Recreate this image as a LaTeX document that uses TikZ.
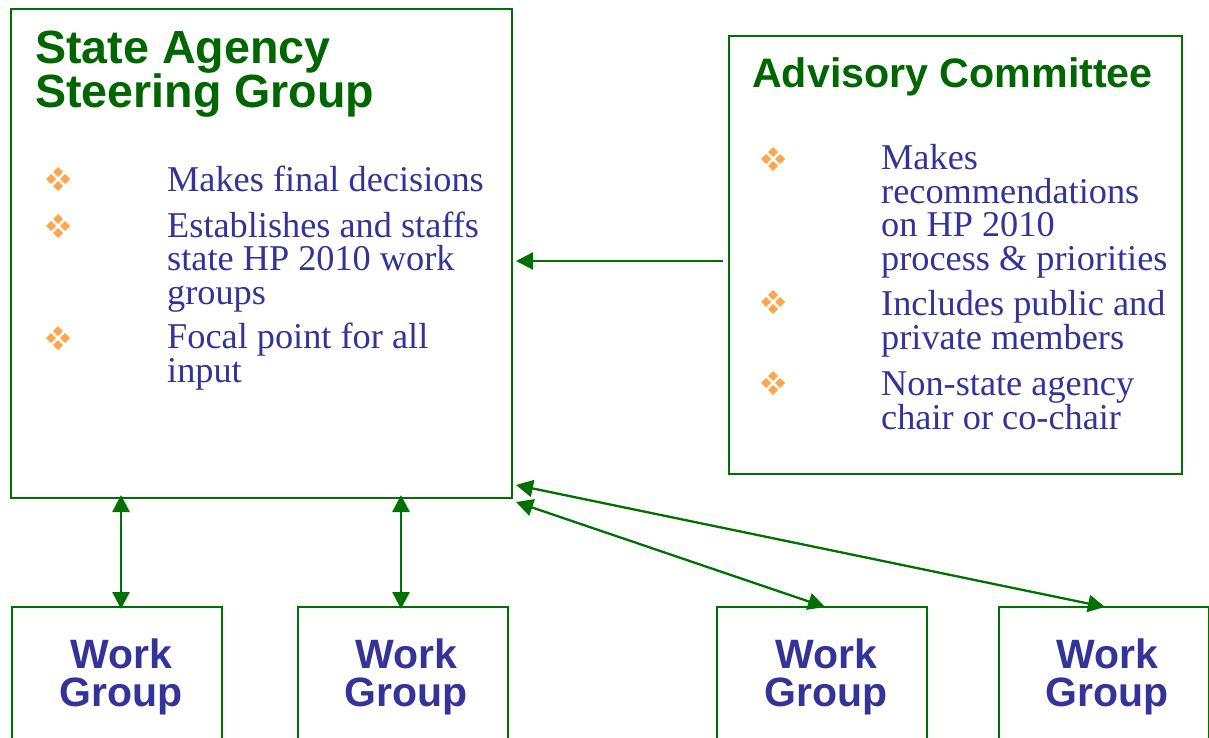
\documentclass[tikz,border=0pt]{standalone}
\usepackage{fontspec}
\setmainfont{Liberation Serif}
\newfontfamily\headfont{Liberation Sans}
\usetikzlibrary{arrows.meta}
\definecolor{boxgreen}{RGB}{0,112,0}
\definecolor{titlegreen}{RGB}{0,102,0}
\definecolor{textblue}{RGB}{51,51,153}
\definecolor{bulletorange}{RGB}{255,166,77}
\tikzset{
  box/.style={draw=boxgreen, line width=2.3pt, anchor=north west, inner sep=0pt},
  conn/.style={draw=boxgreen, line width=2.3pt, -{Triangle[length=17pt,width=17pt]}},
  dconn/.style={draw=boxgreen, line width=2.3pt, {Triangle[length=17pt,width=17pt]}-{Triangle[length=17pt,width=17pt]}},
  titletext/.style={anchor=base west, inner sep=0pt, align=left, text=titlegreen,
     font=\headfont\bfseries\fontsize{46.6}{43}\selectfont},
  advtext/.style={anchor=base west, inner sep=0pt, align=left, text=titlegreen,
     font=\headfont\bfseries\fontsize{41.2}{46}\selectfont},
  body/.style={anchor=base west, inner sep=0pt, align=left, text=textblue,
     font=\fontsize{36.3}{33.5}\selectfont},
  wgtext/.style={anchor=base, inner sep=0pt, align=center, text=textblue,
     font=\headfont\bfseries\fontsize{41}{38}\selectfont},
  pics/bul/.style={code={
     \foreach \dx/\dy in {-7/0,7/0,0/-7,0/7}{
       \fill[bulletorange] (\dx-5,\dy) -- (\dx,\dy-5) -- (\dx+5,\dy) -- (\dx,\dy+5) -- cycle;}
  }}
}
\begin{document}
\begin{tikzpicture}[x=1pt,y=-1pt]
\useasboundingbox (0,0) rectangle (1209,738);
% boxes
\node[box, minimum width=501pt, minimum height=489pt] (sag) at (10,8) {};
\node[box, minimum width=453pt, minimum height=438pt] (adv) at (728,35) {};
\node[box, minimum width=210pt, minimum height=160pt] (wg1) at (11,606) {};
\node[box, minimum width=210pt, minimum height=160pt] (wg2) at (297,606) {};
\node[box, minimum width=210pt, minimum height=160pt] (wg3) at (716,606) {};
\node[box, minimum width=210pt, minimum height=160pt] (wg4) at (998,606) {};
% titles (anchor = baseline of the last line)
\node[titletext] (sagt) at (35,108) {State Agency\\Steering Group};
\node[advtext] (advt) at (752,88) {Advisory Committee};
% left bullets
\pic at (58,179) {bul};
\pic at (58,226) {bul};
\pic at (58,338) {bul};
\node[body] (l1) at (167,191) {Makes final decisions};
\node[body] (l2) at (167,304) {Establishes and staffs\\state HP 2010 work\\groups};
\node[body] (l3) at (167,382) {Focal point for all\\input};
% right bullets
\pic at (773,159) {bul};
\pic at (773,302) {bul};
\pic at (773,383) {bul};
\node[body] (r1) at (881,270) {Makes\\recommendations\\on HP 2010\\process \& priorities};
\node[body] (r2) at (881,349) {Includes public and\\private members};
\node[body] (r3) at (881,429) {Non-state agency\\chair or co-chair};
% work group labels
\node[wgtext] (w1) at (121,706) {Work\\Group};
\node[wgtext] (w2) at (406,706) {Work\\Group};
\node[wgtext] (w3) at (826,706) {Work\\Group};
\node[wgtext] (w4) at (1107,706) {Work\\Group};
% connector end points
\coordinate (advL) at (723,261);
\coordinate (sagR) at (516,261);
\coordinate (sagB1) at (121,495);
\coordinate (wgT1) at (121,609);
\coordinate (sagB2) at (401,495);
\coordinate (wgT2) at (401,609);
\coordinate (sagC1) at (516,502);
\coordinate (wgT3) at (825,607);
\coordinate (sagC2) at (516,485);
\coordinate (wgT4) at (1105,607);
% connectors
\draw[conn] (advL) -- (sagR);
\draw[dconn] (sagB1) -- (wgT1);
\draw[dconn] (sagB2) -- (wgT2);
\draw[dconn] (sagC1) -- (wgT3);
\draw[dconn] (sagC2) -- (wgT4);
\end{tikzpicture}
\end{document}
